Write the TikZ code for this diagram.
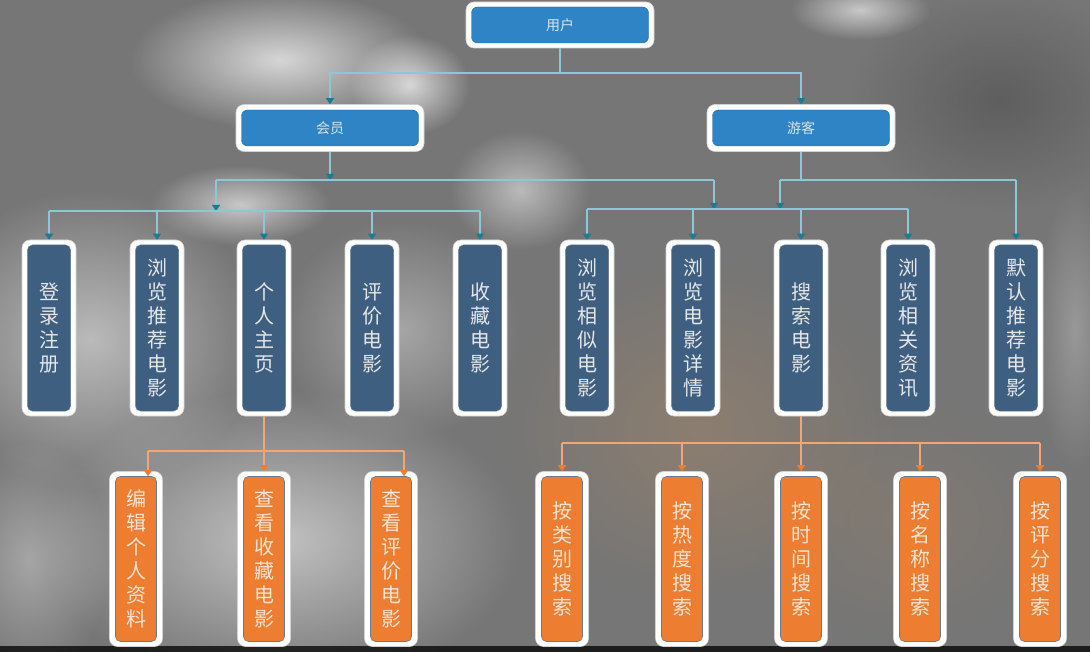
\documentclass[tikz,border=0pt]{standalone}
\usepackage{fontspec}
\newfontfamily\cjk{Noto Sans CJK SC}
\usetikzlibrary{arrows.meta,fadings}
\tikzfading[name=softblob, inner color=transparent!0, outer color=transparent!100]
\definecolor{bgbase}{HTML}{767676}
\definecolor{topblue}{HTML}{2E84C4}
\definecolor{toptext}{HTML}{D5E3EE}
\definecolor{midblue}{HTML}{3F5F80}
\definecolor{midtext}{HTML}{E4E6E8}
\definecolor{inborder}{HTML}{667A92}
\definecolor{orfill}{HTML}{ED7D31}
\definecolor{ortext}{HTML}{FBE3D2}
\definecolor{lineblue}{HTML}{8CC7D6}
\definecolor{arrowteal}{HTML}{1C7A95}
\definecolor{lineorange}{HTML}{F2A676}
\definecolor{warm}{HTML}{A88868}
\tikzset{
  frame/.style={draw=black!18, fill=white, rounded corners=8pt, line width=0.6pt, inner sep=0pt},
  topin/.style={fill=topblue, draw=topblue!80!black, line width=0.4pt, rounded corners=6pt, text=toptext,
    font=\cjk\fontsize{14}{16}\selectfont, minimum width=177pt, minimum height=36pt, inner sep=0pt},
  midin/.style={fill=midblue, draw=inborder, line width=0.5pt, rounded corners=5pt, text=midtext,
    font=\cjk\fontsize{20}{24}\selectfont, align=center, minimum width=43pt, minimum height=166pt, inner sep=0pt},
  botin/.style={fill=orfill, draw=inborder, line width=0.6pt, rounded corners=5pt, text=ortext,
    font=\cjk\fontsize{20}{24}\selectfont, align=center, minimum width=41pt, minimum height=165pt, inner sep=0pt},
  bl/.style={draw=lineblue, line width=1.4pt},
  bla/.style={bl, -{Triangle[width=8pt,length=6pt,color=arrowteal]}},
  orl/.style={draw=lineorange, line width=1.3pt},
  ora/.style={orl, -{Triangle[width=8pt,length=6pt,color=orfill]}},
  blob/.style={path fading=softblob}
}
\newcommand\bx[7]{%
  \node[frame, minimum width=#4pt, minimum height=#5pt] (#1) at (#2,#3) {};
  \node[#6] (#1-in) at (#1.center) {#7};}
\begin{document}
\begin{tikzpicture}[x=1pt,y=-1pt]
\useasboundingbox (0,0) rectangle (1090,652);
% background
\fill[bgbase] (0,0) rectangle (1090,652);
\fill[white, opacity=.7, blob] (280,60) ellipse [x radius=150, y radius=70];
\fill[white, opacity=.7, blob] (410,85) ellipse [x radius=60, y radius=50];
\fill[white, opacity=.6, blob] (240,205) ellipse [x radius=90, y radius=40];
\fill[white, opacity=.5, blob] (520,190) ellipse [x radius=70, y radius=60];
\fill[white, opacity=.5, blob] (90,340) ellipse [x radius=170, y radius=150];
\fill[white, opacity=.35, blob] (400,330) ellipse [x radius=120, y radius=110];
\fill[white, opacity=.55, blob] (280,540) ellipse [x radius=240, y radius=150];
\fill[white, opacity=.35, blob] (30,560) ellipse [x radius=80, y radius=120];
\fill[warm, opacity=.45, blob] (700,430) ellipse [x radius=200, y radius=170];
\fill[warm, opacity=.25, blob] (900,520) ellipse [x radius=150, y radius=120];
\fill[white, opacity=.6, blob] (860,10) ellipse [x radius=70, y radius=30];
\fill[black, opacity=.2, blob] (1000,100) ellipse [x radius=150, y radius=110];
\fill[white, opacity=.25, blob] (1075,330) ellipse [x radius=40, y radius=140];
\fill[black, opacity=.75] (0,646) rectangle (1090,652);
% level 1 and 2
\bx{user}{560}{25}{188}{46}{topin}{用户}
\bx{member}{330}{128}{188}{47}{topin}{会员}
\bx{guest}{801}{128}{188}{47}{topin}{游客}
% level 3
\bx{a1}{49}{328}{54}{176}{midin}{登\\录\\注\\册}
\bx{a2}{157}{328}{54}{176}{midin}{浏\\览\\推\\荐\\电\\影}
\bx{a3}{264}{328}{54}{176}{midin}{个\\人\\主\\页}
\bx{a4}{372}{328}{54}{176}{midin}{评\\价\\电\\影}
\bx{a5}{480}{328}{54}{176}{midin}{收\\藏\\电\\影}
\bx{b1}{587}{328}{54}{176}{midin}{浏\\览\\相\\似\\电\\影}
\bx{b2}{693}{328}{54}{176}{midin}{浏\\览\\电\\影\\详\\情}
\bx{b3}{801}{328}{54}{176}{midin}{搜\\索\\电\\影}
\bx{b4}{908}{328}{54}{176}{midin}{浏\\览\\相\\关\\资\\讯}
\bx{b5}{1016}{328}{54}{176}{midin}{默\\认\\推\\荐\\电\\影}
% level 4
\bx{c1}{136}{559}{53}{175}{botin}{编\\辑\\个\\人\\资\\料}
\bx{c2}{264}{559}{53}{175}{botin}{查\\看\\收\\藏\\电\\影}
\bx{c3}{391}{559}{53}{175}{botin}{查\\看\\评\\价\\电\\影}
\bx{d1}{562}{559}{53}{175}{botin}{按\\类\\别\\搜\\索}
\bx{d2}{682}{559}{53}{175}{botin}{按\\热\\度\\搜\\索}
\bx{d3}{801}{559}{53}{175}{botin}{按\\时\\间\\搜\\索}
\bx{d4}{920}{559}{53}{175}{botin}{按\\名\\称\\搜\\索}
\bx{d5}{1040}{559}{53}{175}{botin}{按\\评\\分\\搜\\索}
% connectors: user
\coordinate (j0) at (560,73);
\draw[bl] (user.south) -- (j0);
\draw[bla] (j0) -| (member.north);
\draw[bla] (j0) -| (guest.north);
% member branch
\coordinate (m1) at (330,180);
\coordinate (mL) at (216,180);
\coordinate (mR) at (714,180);
\coordinate (L) at (216,211);
\coordinate (R) at (714,209);
\draw[bla] (member.south) -- (m1);
\draw[bl] (mL) -- (mR);
\draw[bla] (mL) -- (L);
\draw[bla] (mR) -- (R);
\draw[bl] (a1.north |- L) -- (a5.north |- L);
\foreach \n in {a1,a2,a3,a4,a5} \draw[bla] (\n.north |- L) -- (\n.north);
% guest branch
\coordinate (g1) at (801,180);
\coordinate (gL) at (780,180);
\draw[bl] (guest.south) -- (g1);
\draw[bl] (gL) -- (b5.north |- g1);
\draw[bla] (gL) -- (gL |- R);
\draw[bla] (b5.north |- g1) -- (b5.north);
\draw[bl] (b1.north |- R) -- (b4.north |- R);
\foreach \n in {b1,b2,b3,b4} \draw[bla] (\n.north |- R) -- (\n.north);
% personal page branch
\coordinate (oL) at (148,451);
\coordinate (oR) at (404,451);
\draw[orl] (oL) -- (oR);
\draw[ora] (a3.south) -- (c2.north);
\draw[ora] (oL) -- (oL |- c1-in.north);
\draw[ora] (oR) -- (oR |- c3-in.north);
% search branch
\coordinate (s) at (801,443);
\draw[orl] (b3.south) -- (s);
\draw[orl] (d1.north |- s) -- (d5.north |- s);
\foreach \n in {d1,d2,d3,d4,d5} \draw[ora] (\n.north |- s) -- (\n.north);
\end{tikzpicture}
\end{document}
